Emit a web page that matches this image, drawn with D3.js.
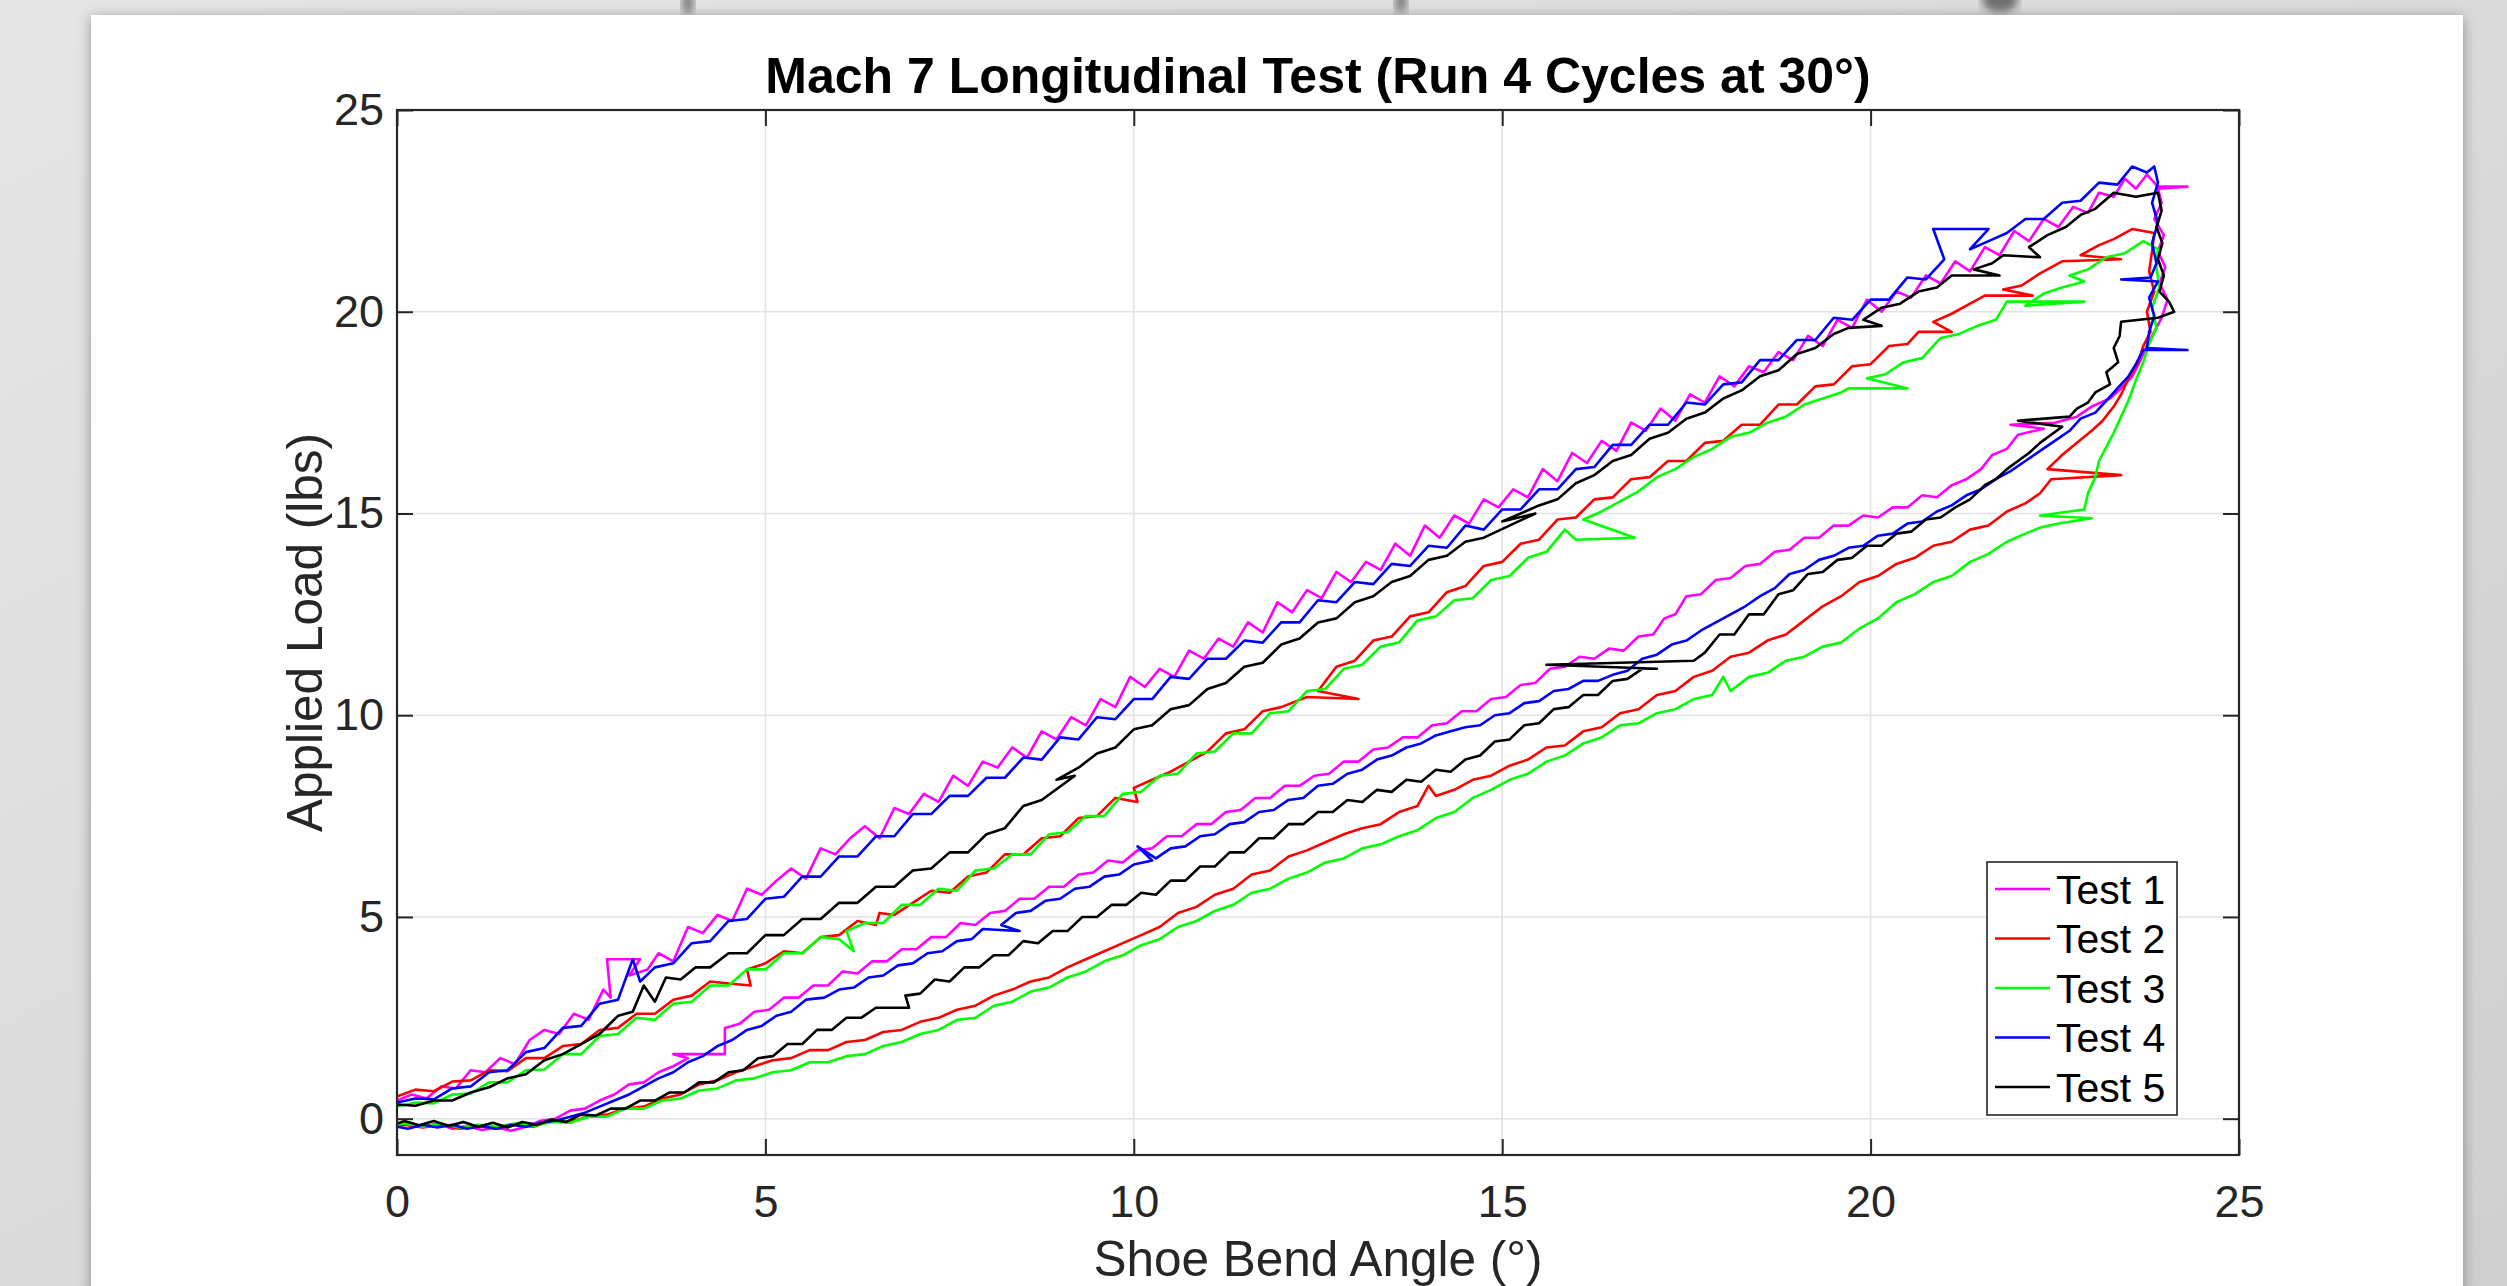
<!DOCTYPE html>
<html>
<head>
<meta charset="utf-8">
<title>Mach 7 Longitudinal Test</title>
<script src="https://d3js.org/d3.v7.min.js"></script>
<style>
  body { margin: 0; padding: 0; background: #dcdcdc; overflow: hidden; }
  text { font-family: "Liberation Sans", Arial, Helvetica, sans-serif; }
</style>
</head>
<body>
<div id="chart"></div>
<script>
// ---- data (angle in deg, load in lbs) ----
const testNames = ["Test 1", "Test 2", "Test 3", "Test 4", "Test 5"];
const testColors = ["#ff00ff", "#ff0000", "#00ff00", "#0000ff", "#000000"];
const xTicks = [0, 5, 10, 15, 20, 25];
const yTicks = [0, 5, 10, 15, 20, 25];
const xDomain = [0, 25];
const yDomain = [-0.9, 25];

// Test 1 (magenta)
const test1Load = [[0,0.45],[0.2,0.6],[0.4,0.5],[0.6,0.8],[0.8,0.75],[1.0,1.2],[1.2,1.15],[1.4,1.5],[1.6,1.35],[1.8,1.95],[2.0,2.2],[2.2,2.1],[2.4,2.6],[2.6,2.45],[2.8,3.2],[2.9,3.0],[2.85,3.95],[3.3,3.95],[3.15,3.55],[3.4,3.7],[3.55,4.1],[3.75,3.9],[3.95,4.75],[4.15,4.6],[4.35,5.05],[4.55,4.9],[4.75,5.7],[4.95,5.55],[5.15,5.9],[5.35,6.2],[5.55,5.95],[5.75,6.7],[5.95,6.55],[6.15,6.95],[6.35,7.25],[6.55,6.95],[6.75,7.7],[6.95,7.55],[7.15,8.05],[7.35,7.85],[7.55,8.5],[7.75,8.25],[7.95,8.85],[8.15,8.7],[8.35,9.2],[8.55,8.95],[8.75,9.6],[8.95,9.4],[9.15,9.95],[9.35,9.75],[9.55,10.4],[9.75,10.2],[9.95,10.95],[10.15,10.7],[10.35,11.15],[10.55,10.95],[10.75,11.6],[10.95,11.4],[11.15,11.9],[11.35,11.7],[11.55,12.3],[11.75,12.05],[11.95,12.8],[12.15,12.55],[12.35,13.1],[12.55,12.9],[12.75,13.55],[12.95,13.3],[13.15,13.8],[13.35,13.6],[13.55,14.25],[13.75,13.95],[13.95,14.7],[14.15,14.4],[14.35,14.95],[14.55,14.75],[14.75,15.35],[14.95,15.15],[15.15,15.6],[15.35,15.4],[15.55,16.1],[15.75,15.8],[15.95,16.5],[16.15,16.25],[16.35,16.8],[16.55,16.55],[16.75,17.25],[16.95,17.05],[17.15,17.6],[17.35,17.3],[17.55,17.95],[17.75,17.75],[17.95,18.4],[18.15,18.15],[18.35,18.65],[18.55,18.5],[18.75,19.0],[18.95,18.8],[19.15,19.4],[19.35,19.15],[19.55,19.8],[19.75,19.6],[19.95,20.3],[20.15,20.0],[20.35,20.5],[20.55,20.35],[20.75,20.9],[20.95,20.7],[21.15,21.25],[21.35,21.0],[21.55,21.6],[21.75,21.4],[21.95,22.0],[22.15,21.75],[22.35,22.3],[22.55,22.1],[22.75,22.6],[22.95,22.45],[23.1,22.95],[23.3,22.85],[23.45,23.3],[23.6,23.05],[23.75,23.4],[23.9,23.1],[24.3,23.1],[23.9,23.05]];
const test1Unload = [[23.95,22.7],[23.85,22.3],[23.98,21.9],[23.9,21.5],[24.0,21.1],[23.92,20.7],[24.03,20.3],[23.95,19.85],[23.85,19.5],[23.75,19.15],[23.65,18.75],[23.55,18.4],[23.4,18.1],[23.25,17.85],[23.0,17.65],[22.8,17.4],[22.5,17.25],[21.9,17.2],[22.35,17.1],[22.0,16.95],[21.85,16.6],[21.65,16.45],[21.5,16.1],[21.3,15.85],[21.1,15.7],[20.9,15.4],[20.7,15.45],[20.5,15.15],[20.3,15.15],[20.1,14.9],[19.9,14.95],[19.7,14.7],[19.5,14.7],[19.3,14.4],[19.1,14.4],[18.9,14.1],[18.7,14.05],[18.5,13.75],[18.3,13.7],[18.1,13.4],[17.9,13.35],[17.7,13.0],[17.5,12.95],[17.35,12.5],[17.2,12.4],[17.05,12.0],[16.85,11.95],[16.65,11.6],[16.45,11.65],[16.25,11.4],[16.05,11.45],[15.85,11.2],[15.65,11.15],[15.45,10.8],[15.25,10.75],[15.05,10.45],[14.85,10.4],[14.65,10.1],[14.45,10.1],[14.25,9.8],[14.05,9.75],[13.85,9.45],[13.65,9.45],[13.45,9.2],[13.25,9.15],[13.05,8.85],[12.85,8.85],[12.65,8.55],[12.45,8.5],[12.25,8.25],[12.05,8.25],[11.85,7.95],[11.65,7.95],[11.45,7.65],[11.25,7.6],[11.05,7.3],[10.85,7.3],[10.65,7.0],[10.45,7.0],[10.25,6.7],[10.05,6.65],[9.85,6.35],[9.65,6.4],[9.45,6.1],[9.25,6.05],[9.05,5.75],[8.85,5.75],[8.65,5.45],[8.45,5.45],[8.25,5.15],[8.05,5.1],[7.85,4.8],[7.65,4.85],[7.45,4.5],[7.25,4.5],[7.05,4.2],[6.85,4.2],[6.65,3.9],[6.45,3.9],[6.25,3.6],[6.05,3.65],[5.85,3.3],[5.65,3.3],[5.45,3.0],[5.25,3.0],[5.05,2.7],[4.85,2.65],[4.65,2.35],[4.45,2.25],[4.45,1.6],[3.75,1.6],[3.95,1.5],[3.75,1.3],[3.55,1.15],[3.35,0.9],[3.15,0.85],[2.95,0.6],[2.75,0.45],[2.55,0.25],[2.35,0.2],[2.15,0.0],[1.95,-0.05],[1.75,-0.2],[1.55,-0.3],[1.35,-0.22],[1.15,-0.28],[0.95,-0.18],[0.75,-0.25],[0.55,-0.12],[0.35,-0.2],[0.15,-0.1],[0,-0.15]];

// Test 2 (red)
const test2Load = [[0,0.55],[0.25,0.72],[0.5,0.68],[0.75,0.92],[1.0,0.95],[1.25,1.2],[1.5,1.18],[1.75,1.5],[2.0,1.5],[2.25,1.8],[2.5,1.85],[2.75,2.2],[3.0,2.25],[3.25,2.6],[3.5,2.6],[3.75,2.95],[4.0,3.05],[4.25,3.4],[4.5,3.35],[4.8,3.3],[4.75,3.7],[5.0,3.85],[5.25,4.15],[5.5,4.1],[5.75,4.5],[6.0,4.55],[6.25,4.9],[6.5,4.8],[6.55,5.1],[6.75,5.05],[7.0,5.35],[7.25,5.65],[7.5,5.6],[7.75,6.0],[8.0,6.1],[8.25,6.55],[8.5,6.55],[8.75,6.95],[9.0,7.0],[9.25,7.45],[9.5,7.5],[9.75,7.95],[10.05,7.85],[10.0,8.2],[10.25,8.4],[10.5,8.6],[10.75,8.85],[11.0,9.1],[11.25,9.55],[11.5,9.65],[11.75,10.1],[12.0,10.2],[12.35,10.45],[13.05,10.4],[12.5,10.6],[12.75,11.2],[13.0,11.35],[13.25,11.85],[13.5,11.95],[13.75,12.45],[14.0,12.55],[14.25,13.05],[14.5,13.2],[14.75,13.7],[15.0,13.8],[15.25,14.25],[15.5,14.35],[15.75,14.85],[16.0,14.9],[16.25,15.35],[16.5,15.4],[16.75,15.85],[17.0,15.9],[17.25,16.3],[17.5,16.3],[17.75,16.75],[18.0,16.8],[18.25,17.2],[18.5,17.2],[18.75,17.7],[19.0,17.7],[19.25,18.15],[19.5,18.2],[19.75,18.65],[20.0,18.7],[20.25,19.15],[20.5,19.2],[20.65,19.5],[21.1,19.5],[20.85,19.75],[21.1,19.95],[21.35,20.2],[21.55,20.4],[22.2,20.4],[21.8,20.55],[22.05,20.65],[22.3,20.95],[22.6,21.25],[23.4,21.3],[22.85,21.4],[23.1,21.65],[23.3,21.8],[23.55,22.05],[23.85,21.95]];
const test2Unload = [[23.82,21.5],[23.78,21.0],[23.85,20.5],[23.75,20.0],[23.8,19.5],[23.7,19.15],[23.62,18.7],[23.5,18.35],[23.4,17.95],[23.3,17.65],[23.15,17.3],[23.0,17.05],[22.8,16.75],[22.6,16.45],[22.4,16.1],[23.4,15.95],[22.45,15.85],[22.3,15.5],[22.1,15.25],[21.85,15.05],[21.6,14.7],[21.35,14.6],[21.1,14.3],[20.85,14.2],[20.6,13.9],[20.35,13.75],[20.1,13.45],[19.85,13.3],[19.6,12.95],[19.35,12.7],[19.1,12.35],[18.85,12.0],[18.6,11.85],[18.35,11.55],[18.1,11.45],[17.85,11.1],[17.6,10.95],[17.35,10.6],[17.1,10.5],[16.85,10.15],[16.6,10.05],[16.35,9.7],[16.1,9.6],[15.85,9.25],[15.6,9.2],[15.35,8.9],[15.1,8.75],[14.85,8.5],[14.6,8.4],[14.35,8.15],[14.1,8.0],[14.0,8.25],[13.85,7.75],[13.6,7.6],[13.35,7.3],[13.1,7.2],[12.85,7.05],[12.6,6.85],[12.35,6.65],[12.1,6.5],[11.85,6.15],[11.6,6.05],[11.35,5.7],[11.1,5.55],[10.85,5.25],[10.6,5.1],[10.35,4.75],[10.1,4.55],[9.85,4.35],[9.6,4.15],[9.35,3.95],[9.1,3.75],[8.85,3.5],[8.6,3.4],[8.35,3.2],[8.1,3.05],[7.85,2.8],[7.6,2.7],[7.35,2.5],[7.1,2.4],[6.85,2.2],[6.6,2.15],[6.35,1.95],[6.1,1.9],[5.85,1.7],[5.6,1.7],[5.35,1.5],[5.1,1.45],[4.85,1.3],[4.6,1.15],[4.35,0.95],[4.1,0.85],[3.85,0.6],[3.6,0.5],[3.35,0.3],[3.1,0.25],[2.85,0.1],[2.6,0.05],[2.35,-0.08],[2.1,-0.05],[1.85,-0.2],[1.6,-0.15],[1.35,-0.25],[1.1,-0.18],[0.85,-0.25],[0.6,-0.15],[0.35,-0.22],[0.1,-0.15],[0,-0.2]];

// Test 3 (green)
const test3Load = [[0,0.3],[0.25,0.4],[0.5,0.38],[0.75,0.6],[1.0,0.62],[1.25,0.9],[1.5,0.9],[1.75,1.2],[2.0,1.22],[2.25,1.6],[2.5,1.6],[2.75,2.05],[3.0,2.1],[3.25,2.5],[3.5,2.45],[3.75,2.85],[4.0,2.9],[4.25,3.3],[4.5,3.3],[4.75,3.7],[5.0,3.7],[5.25,4.1],[5.5,4.1],[5.75,4.5],[6.0,4.45],[6.2,4.15],[6.1,4.65],[6.35,4.85],[6.6,4.85],[6.85,5.3],[7.1,5.3],[7.35,5.7],[7.6,5.65],[7.85,6.15],[8.1,6.2],[8.35,6.55],[8.6,6.55],[8.85,7.05],[9.1,7.1],[9.35,7.5],[9.6,7.5],[9.85,8.05],[10.1,8.1],[10.35,8.5],[10.6,8.55],[10.85,9.05],[11.1,9.1],[11.35,9.55],[11.6,9.55],[11.85,10.05],[12.1,10.1],[12.35,10.6],[12.6,10.65],[12.85,11.15],[13.1,11.25],[13.35,11.7],[13.6,11.8],[13.85,12.35],[14.1,12.45],[14.35,12.85],[14.6,12.9],[14.85,13.35],[15.1,13.45],[15.35,13.9],[15.6,14.05],[15.85,14.6],[16.0,14.35],[16.8,14.4],[16.1,14.85],[16.35,15.05],[16.6,15.3],[16.85,15.55],[17.1,15.9],[17.35,16.1],[17.6,16.4],[17.85,16.6],[18.1,16.9],[18.35,17.0],[18.6,17.25],[18.85,17.4],[19.1,17.7],[19.35,17.85],[19.6,18.0],[19.7,18.1],[20.5,18.1],[19.95,18.35],[20.2,18.45],[20.45,18.75],[20.7,18.85],[20.95,19.35],[21.2,19.45],[21.45,19.65],[21.7,19.8],[21.85,20.25],[22.9,20.25],[22.1,20.15],[22.35,20.45],[22.6,20.6],[22.9,20.75],[22.7,20.9],[22.95,21.05],[23.2,21.35],[23.45,21.45],[23.7,21.75],[23.9,21.55]];
const test3Unload = [[23.88,21.1],[23.92,20.6],[23.82,20.1],[23.88,19.6],[23.78,19.2],[23.7,18.75],[23.6,18.3],[23.5,17.8],[23.4,17.4],[23.3,17.0],[23.2,16.65],[23.1,16.3],[23.05,15.9],[22.95,15.5],[22.9,15.1],[22.3,14.95],[23.0,14.88],[22.55,14.75],[22.3,14.65],[22.1,14.5],[21.85,14.3],[21.6,14.0],[21.35,13.8],[21.1,13.45],[20.85,13.3],[20.6,13.0],[20.35,12.8],[20.1,12.4],[19.85,12.15],[19.6,11.8],[19.35,11.7],[19.1,11.45],[18.85,11.35],[18.6,11.05],[18.35,10.95],[18.1,10.6],[18.0,10.95],[17.85,10.5],[17.6,10.4],[17.35,10.15],[17.1,10.05],[16.85,9.8],[16.6,9.75],[16.35,9.45],[16.1,9.3],[15.85,9.0],[15.6,8.85],[15.35,8.55],[15.1,8.4],[14.85,8.15],[14.6,7.95],[14.35,7.6],[14.1,7.45],[13.85,7.15],[13.6,7.0],[13.35,6.8],[13.1,6.7],[12.85,6.45],[12.6,6.35],[12.35,6.1],[12.1,5.95],[11.85,5.7],[11.6,5.6],[11.35,5.3],[11.1,5.15],[10.85,4.9],[10.6,4.75],[10.35,4.45],[10.1,4.3],[9.85,4.05],[9.6,3.9],[9.35,3.65],[9.1,3.5],[8.85,3.25],[8.6,3.15],[8.35,2.9],[8.1,2.8],[7.85,2.5],[7.6,2.45],[7.35,2.2],[7.1,2.1],[6.85,1.9],[6.6,1.8],[6.35,1.6],[6.1,1.55],[5.85,1.4],[5.6,1.4],[5.35,1.2],[5.1,1.15],[4.85,1.0],[4.6,0.95],[4.35,0.75],[4.1,0.7],[3.85,0.5],[3.6,0.45],[3.35,0.25],[3.1,0.25],[2.85,0.05],[2.6,0.05],[2.35,-0.1],[2.1,-0.08],[1.85,-0.18],[1.6,-0.12],[1.35,-0.2],[1.1,-0.15],[0.85,-0.22],[0.6,-0.12],[0.35,-0.2],[0.1,-0.12],[0,-0.15]];

// Test 4 (blue)
const test4Load = [[0,0.4],[0.25,0.5],[0.5,0.48],[0.75,0.75],[1.0,0.8],[1.25,1.15],[1.5,1.2],[1.75,1.65],[2.0,1.75],[2.25,2.25],[2.5,2.3],[2.75,2.85],[3.0,2.95],[3.2,3.95],[3.3,3.4],[3.5,3.75],[3.75,3.85],[4.0,4.35],[4.25,4.4],[4.5,4.9],[4.75,4.95],[5.0,5.45],[5.25,5.5],[5.5,6.0],[5.75,6.0],[6.0,6.5],[6.25,6.5],[6.5,7.0],[6.75,7.0],[7.0,7.55],[7.25,7.55],[7.5,8.0],[7.75,8.0],[8.0,8.45],[8.25,8.45],[8.5,8.95],[8.75,8.9],[9.0,9.45],[9.25,9.4],[9.5,9.95],[9.75,9.9],[10.0,10.4],[10.25,10.4],[10.5,10.95],[10.75,10.9],[11.0,11.4],[11.25,11.4],[11.5,11.85],[11.75,11.8],[12.0,12.3],[12.25,12.3],[12.5,12.85],[12.75,12.8],[13.0,13.3],[13.25,13.25],[13.5,13.75],[13.75,13.7],[14.0,14.2],[14.25,14.15],[14.5,14.7],[14.75,14.6],[15.0,15.1],[15.25,15.1],[15.5,15.6],[15.75,15.6],[16.0,16.1],[16.25,16.15],[16.5,16.7],[16.75,16.7],[17.0,17.2],[17.25,17.2],[17.5,17.75],[17.75,17.7],[18.0,18.2],[18.25,18.25],[18.5,18.8],[18.75,18.8],[19.0,19.3],[19.25,19.3],[19.5,19.85],[19.75,19.8],[20.0,20.3],[20.25,20.3],[20.5,20.85],[20.75,20.8],[21.0,21.3],[20.85,22.05],[21.6,22.05],[21.35,21.55],[21.6,21.75],[21.85,21.95],[22.1,22.3],[22.35,22.3],[22.6,22.7],[22.85,22.75],[23.1,23.2],[23.35,23.15],[23.55,23.6],[23.75,23.45],[23.85,23.6]];
const test4Unload = [[23.9,23.2],[23.82,22.7],[23.9,22.2],[23.82,21.7],[23.88,21.2],[23.8,20.85],[23.4,20.8],[23.9,20.75],[23.78,20.35],[23.85,19.9],[23.78,19.5],[23.75,19.1],[24.3,19.05],[23.7,19.05],[23.6,18.7],[23.5,18.4],[23.35,18.1],[23.2,17.8],[23.05,17.5],[22.85,17.35],[22.7,17.05],[22.5,16.8],[22.3,16.55],[22.1,16.3],[21.9,16.05],[21.7,15.85],[21.5,15.6],[21.3,15.45],[21.1,15.2],[20.9,15.05],[20.7,14.8],[20.5,14.75],[20.3,14.5],[20.1,14.45],[19.9,14.2],[19.7,14.15],[19.5,13.95],[19.3,13.85],[19.1,13.6],[18.9,13.5],[18.7,13.15],[18.5,12.95],[18.3,12.7],[18.1,12.5],[17.9,12.3],[17.7,12.1],[17.5,11.85],[17.3,11.75],[17.1,11.5],[16.9,11.4],[16.7,11.1],[16.5,11.0],[16.3,10.85],[16.1,10.85],[15.9,10.65],[15.7,10.6],[15.5,10.35],[15.3,10.3],[15.1,10.05],[14.9,10.0],[14.7,9.75],[14.5,9.7],[14.3,9.6],[14.1,9.5],[13.9,9.3],[13.7,9.2],[13.5,9.0],[13.3,8.9],[13.1,8.65],[12.9,8.55],[12.7,8.3],[12.5,8.25],[12.3,7.95],[12.1,7.9],[11.9,7.65],[11.7,7.6],[11.5,7.35],[11.3,7.3],[11.1,7.05],[10.9,7.0],[10.7,6.75],[10.5,6.7],[10.3,6.45],[10.05,6.75],[10.25,6.4],[10.0,6.3],[9.8,6.05],[9.6,6.0],[9.4,5.75],[9.2,5.7],[9.0,5.45],[8.8,5.4],[8.6,5.15],[8.4,5.1],[8.2,4.8],[8.45,4.65],[7.95,4.7],[7.8,4.45],[7.6,4.4],[7.4,4.15],[7.2,4.1],[7.0,3.85],[6.8,3.8],[6.6,3.55],[6.4,3.5],[6.2,3.25],[6.0,3.2],[5.8,3.0],[5.55,2.95],[5.35,2.65],[5.15,2.55],[4.95,2.3],[4.75,2.2],[4.55,1.95],[4.35,1.8],[4.15,1.55],[3.95,1.4],[3.75,1.15],[3.55,1.0],[3.35,0.8],[3.15,0.6],[2.95,0.45],[2.75,0.3],[2.55,0.15],[2.35,0.05],[2.15,-0.05],[1.95,-0.1],[1.75,-0.2],[1.55,-0.15],[1.35,-0.25],[1.15,-0.18],[0.95,-0.25],[0.75,-0.15],[0.55,-0.22],[0.35,-0.15],[0.15,-0.25],[0,-0.2]];

// Test 5 (black)
const test5Load = [[0,0.35],[0.25,0.32],[0.5,0.45],[0.75,0.45],[1.0,0.65],[1.25,0.78],[1.5,1.0],[1.75,1.1],[2.0,1.45],[2.25,1.6],[2.5,1.85],[2.75,2.1],[3.0,2.55],[3.2,2.65],[3.35,3.3],[3.5,2.9],[3.65,3.5],[3.85,3.45],[4.05,3.75],[4.25,3.75],[4.5,4.1],[4.75,4.1],[5.0,4.55],[5.25,4.55],[5.5,4.95],[5.75,4.95],[6.0,5.35],[6.25,5.35],[6.5,5.75],[6.75,5.75],[7.0,6.15],[7.25,6.2],[7.5,6.6],[7.75,6.6],[8.0,7.05],[8.25,7.2],[8.5,7.75],[8.75,7.9],[9.2,8.5],[8.95,8.4],[9.25,8.7],[9.5,9.05],[9.75,9.2],[10.0,9.65],[10.25,9.75],[10.5,10.15],[10.75,10.25],[11.0,10.65],[11.25,10.8],[11.5,11.2],[11.75,11.3],[12.0,11.75],[12.25,11.9],[12.5,12.3],[12.75,12.4],[13.0,12.8],[13.25,12.95],[13.5,13.3],[13.75,13.45],[14.0,13.85],[14.25,13.95],[14.5,14.3],[14.75,14.4],[15.45,15.0],[15.0,14.8],[15.25,15.0],[15.5,15.2],[15.75,15.35],[16.0,15.75],[16.25,15.95],[16.5,16.3],[16.75,16.45],[17.0,16.85],[17.25,17.0],[17.5,17.35],[17.75,17.5],[18.0,17.85],[18.25,18.05],[18.5,18.4],[18.75,18.55],[19.0,18.95],[19.25,19.1],[19.5,19.45],[19.7,19.6],[20.15,19.65],[19.9,19.8],[20.15,20.1],[20.4,20.2],[20.65,20.5],[20.9,20.6],[21.1,20.9],[21.75,20.9],[21.4,21.05],[21.65,21.2],[21.8,21.4],[22.3,21.35],[22.15,21.6],[22.4,21.9],[22.65,22.1],[22.85,22.4],[23.05,22.55],[23.3,22.95],[23.6,22.85],[23.9,22.95]];
const test5Unload = [[23.95,22.5],[23.88,22.1],[23.96,21.7],[23.9,21.3],[23.98,20.9],[23.92,20.5],[24.05,20.25],[24.12,20.0],[23.9,19.85],[23.4,19.75],[23.38,19.4],[23.3,19.1],[23.36,18.75],[23.2,18.5],[23.25,18.2],[23.05,18.0],[22.95,17.75],[22.8,17.6],[22.7,17.4],[22.0,17.3],[22.6,17.15],[22.45,16.95],[22.3,16.75],[22.15,16.5],[22.0,16.3],[21.85,16.1],[21.7,15.85],[21.55,15.7],[21.35,15.35],[21.15,15.15],[20.95,14.9],[20.75,14.85],[20.55,14.55],[20.35,14.5],[20.15,14.2],[19.95,14.2],[19.75,13.9],[19.55,13.85],[19.35,13.55],[19.15,13.5],[18.95,13.1],[18.75,13.0],[18.55,12.5],[18.35,12.5],[18.15,12.0],[17.95,12.0],[17.75,11.55],[17.6,11.35],[15.6,11.25],[17.1,11.15],[16.9,11.15],[16.7,10.9],[16.5,10.85],[16.3,10.5],[16.1,10.5],[15.9,10.2],[15.7,10.15],[15.5,9.8],[15.3,9.75],[15.1,9.4],[14.9,9.35],[14.7,9.0],[14.5,8.9],[14.3,8.6],[14.1,8.65],[13.9,8.35],[13.7,8.4],[13.5,8.1],[13.3,8.15],[13.1,7.85],[12.9,7.9],[12.7,7.6],[12.5,7.6],[12.3,7.3],[12.1,7.3],[11.9,6.95],[11.7,6.95],[11.5,6.6],[11.3,6.6],[11.1,6.25],[10.9,6.25],[10.7,5.9],[10.5,5.9],[10.3,5.55],[10.1,5.6],[9.9,5.3],[9.7,5.3],[9.5,5.0],[9.3,5.0],[9.1,4.65],[8.9,4.65],[8.7,4.35],[8.5,4.4],[8.3,4.05],[8.1,4.05],[7.9,3.75],[7.7,3.75],[7.5,3.4],[7.3,3.45],[7.1,3.1],[6.9,3.05],[6.95,2.75],[6.5,2.75],[6.3,2.5],[6.1,2.5],[5.9,2.2],[5.7,2.2],[5.5,1.85],[5.3,1.85],[5.1,1.55],[4.9,1.5],[4.7,1.2],[4.5,1.15],[4.3,0.9],[4.1,0.9],[3.9,0.65],[3.7,0.65],[3.5,0.45],[3.3,0.45],[3.1,0.25],[2.9,0.25],[2.7,0.08],[2.5,0.1],[2.3,-0.08],[2.1,-0.02],[1.9,-0.15],[1.7,-0.08],[1.5,-0.22],[1.3,-0.1],[1.1,-0.2],[0.9,-0.08],[0.7,-0.18],[0.5,-0.06],[0.3,-0.16],[0.1,-0.06],[0,-0.12]];

const testLoads = [test1Load, test2Load, test3Load, test4Load, test5Load];
const testUnloads = [test1Unload, test2Unload, test3Unload, test4Unload, test5Unload];

// ---- layout ----
const W = 2507, H = 1286;
const plotL = 397, plotR = 2239, plotT = 110, plotB = 1155;

const svg = d3.select("#chart").append("svg")
    .attr("width", W)
    .attr("height", H);

const defs = svg.append("defs");
const bg = defs.append("linearGradient").attr("id", "bgGrad")
    .attr("x1", "0%").attr("y1", "0%").attr("x2", "100%").attr("y2", "100%");
bg.append("stop").attr("offset", "0%").attr("stop-color", "#e6e6e6");
bg.append("stop").attr("offset", "100%").attr("stop-color", "#cfcfcf");

const shadow = defs.append("filter").attr("id", "shadow")
    .attr("x", "-5%").attr("y", "-5%").attr("width", "110%").attr("height", "110%");
shadow.append("feDropShadow")
    .attr("dx", 0).attr("dy", 2).attr("stdDeviation", 7)
    .attr("flood-color", "#000").attr("flood-opacity", 0.35);

const blur = defs.append("filter").attr("id", "blur");
blur.append("feGaussianBlur").attr("stdDeviation", 4);

defs.append("clipPath").attr("id", "plotClip")
    .append("rect")
    .attr("x", plotL).attr("y", plotT)
    .attr("width", plotR - plotL).attr("height", plotB - plotT);

// slide background
svg.append("rect").attr("width", W).attr("height", H).attr("fill", "url(#bgGrad)");
// faint marks peeking at the top edge
svg.append("ellipse").attr("cx", 688).attr("cy", 2).attr("rx", 6).attr("ry", 12).attr("fill", "#7a7a7a").attr("filter", "url(#blur)");
svg.append("ellipse").attr("cx", 1401).attr("cy", 2).attr("rx", 6).attr("ry", 11).attr("fill", "#7a7a7a").attr("filter", "url(#blur)");
svg.append("ellipse").attr("cx", 2000).attr("cy", 0).attr("rx", 18).attr("ry", 12).attr("fill", "#6e6e6e").attr("filter", "url(#blur)");

// white figure panel
svg.append("rect")
    .attr("x", 91).attr("y", 15)
    .attr("width", 2372).attr("height", 1300)
    .attr("fill", "#ffffff")
    .attr("filter", "url(#shadow)");

// scales
const x = d3.scaleLinear().domain(xDomain).range([plotL, plotR]);
const y = d3.scaleLinear().domain(yDomain).range([plotB, plotT]);

// grid
const grid = svg.append("g");
grid.selectAll("line.gx").data(xTicks).join("line")
    .attr("class", "gx")
    .attr("x1", d => x(d)).attr("x2", d => x(d))
    .attr("y1", plotT).attr("y2", plotB)
    .attr("stroke", "#e3e3e3").attr("stroke-width", 1.6);
grid.selectAll("line.gy").data(yTicks).join("line")
    .attr("class", "gy")
    .attr("x1", plotL).attr("x2", plotR)
    .attr("y1", d => y(d)).attr("y2", d => y(d))
    .attr("stroke", "#e3e3e3").attr("stroke-width", 1.6);

// curves: loading branch followed by unloading branch, drawn Test 1 .. Test 5
const line = d3.line().x(d => x(d[0])).y(d => y(d[1]));
const curves = svg.append("g").attr("clip-path", "url(#plotClip)");
testNames.forEach((name, i) => {
    const path = testLoads[i].concat(testUnloads[i]);
    curves.append("path")
        .datum(path)
        .attr("d", line)
        .attr("fill", "none")
        .attr("stroke", testColors[i])
        .attr("stroke-width", 2.6)
        .attr("stroke-linejoin", "round");
});

// axes: bottom + left with labels, top + right ticks only (box)
const tickLen = 16;
const axisColor = "#262626";
svg.append("g")
    .attr("transform", "translate(0," + plotB + ")")
    .call(d3.axisBottom(x).tickValues(xTicks).tickSizeInner(-tickLen).tickSizeOuter(0).tickPadding(30))
    .call(g => g.select(".domain").remove())
    .call(g => g.selectAll("line").attr("stroke", axisColor).attr("stroke-width", 2))
    .call(g => g.selectAll("text").attr("fill", axisColor).style("font-size", "45px").style("font-family", "Liberation Sans, Arial, sans-serif"));
svg.append("g")
    .attr("transform", "translate(" + plotL + ",0)")
    .call(d3.axisLeft(y).tickValues(yTicks).tickSizeInner(-tickLen).tickSizeOuter(0).tickPadding(13))
    .call(g => g.select(".domain").remove())
    .call(g => g.selectAll("line").attr("stroke", axisColor).attr("stroke-width", 2))
    .call(g => g.selectAll("text").attr("fill", axisColor).style("font-size", "45px").style("font-family", "Liberation Sans, Arial, sans-serif"));
svg.append("g")
    .attr("transform", "translate(0," + plotT + ")")
    .call(d3.axisTop(x).tickValues(xTicks).tickSizeInner(-tickLen).tickSizeOuter(0).tickFormat(""))
    .call(g => g.select(".domain").remove())
    .call(g => g.selectAll("line").attr("stroke", axisColor).attr("stroke-width", 2));
svg.append("g")
    .attr("transform", "translate(" + plotR + ",0)")
    .call(d3.axisRight(y).tickValues(yTicks).tickSizeInner(-tickLen).tickSizeOuter(0).tickFormat(""))
    .call(g => g.select(".domain").remove())
    .call(g => g.selectAll("line").attr("stroke", axisColor).attr("stroke-width", 2));

// axes box
svg.append("rect")
    .attr("x", plotL).attr("y", plotT)
    .attr("width", plotR - plotL).attr("height", plotB - plotT)
    .attr("fill", "none")
    .attr("stroke", axisColor)
    .attr("stroke-width", 2.2);

// title and axis labels
svg.append("text")
    .attr("x", (plotL + plotR) / 2).attr("y", 93)
    .attr("text-anchor", "middle")
    .style("font-size", "50px").style("font-weight", "bold")
    .attr("fill", "#000")
    .text("Mach 7 Longitudinal Test (Run 4 Cycles at 30°)");
svg.append("text")
    .attr("x", (plotL + plotR) / 2).attr("y", 1276)
    .attr("text-anchor", "middle")
    .style("font-size", "49.5px")
    .attr("fill", axisColor)
    .text("Shoe Bend Angle (°)");
svg.append("text")
    .attr("transform", "translate(322," + (plotT + plotB) / 2 + ") rotate(-90)")
    .attr("text-anchor", "middle")
    .style("font-size", "49.5px")
    .attr("fill", axisColor)
    .text("Applied Load (lbs)");

// legend
const legend = svg.append("g");
legend.append("rect")
    .attr("x", 1987).attr("y", 862)
    .attr("width", 190).attr("height", 253)
    .attr("fill", "#ffffff")
    .attr("stroke", axisColor).attr("stroke-width", 1.6);
testNames.forEach((name, i) => {
    const ly = 889 + i * 49.5;
    legend.append("line")
        .attr("x1", 1995).attr("x2", 2050)
        .attr("y1", ly).attr("y2", ly)
        .attr("stroke", testColors[i]).attr("stroke-width", 2.3);
    legend.append("text")
        .attr("x", 2056).attr("y", ly).attr("dy", "0.36em")
        .style("font-size", "41px")
        .attr("fill", "#000")
        .text(name);
});
</script>
</body>
</html>
